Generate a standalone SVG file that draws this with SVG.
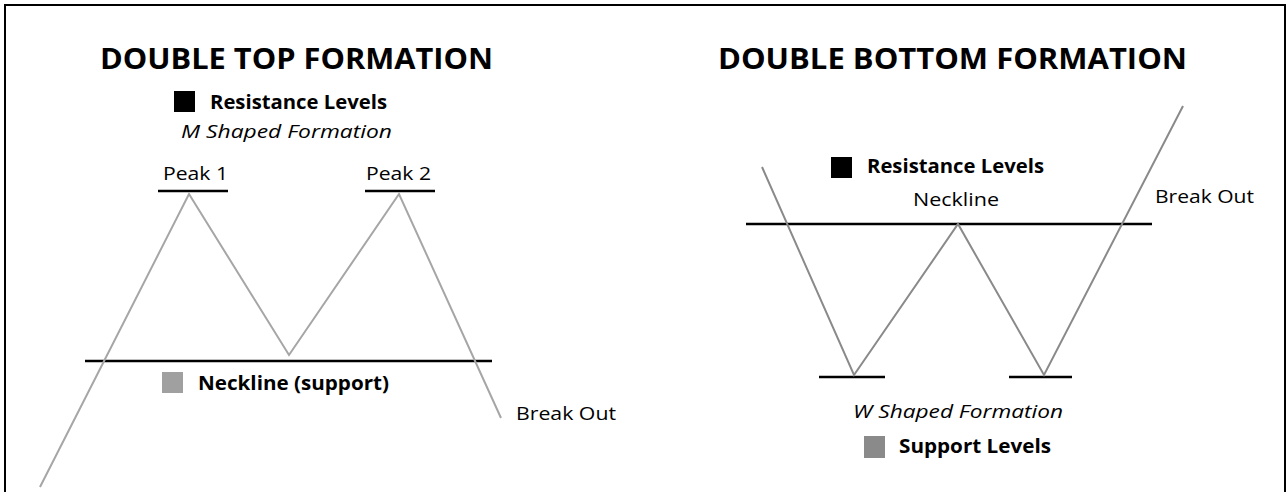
<svg xmlns="http://www.w3.org/2000/svg" width="1288" height="492" viewBox="0 0 1288 492">
<style>
text{font-family:"Open Sans","Liberation Sans",sans-serif;fill:#000}
.title{font-size:28.5px;font-weight:bold}
.lbl{font-size:20px;font-weight:bold}
.it{font-size:19px;font-style:italic}
.reg{font-size:19px}
.lev{stroke:#000;stroke-width:2.5;fill:none}
.priceL{stroke:#a6a6a6;stroke-width:2;fill:none;stroke-linejoin:miter}
.priceR{stroke:#8a8a8a;stroke-width:2;fill:none;stroke-linejoin:miter}
</style>
<rect x="0" y="0" width="1288" height="492" fill="#fff"/>
<rect x="5" y="5" width="1280" height="500" fill="none" stroke="#000" stroke-width="2"/>

<g id="double-top">
  <text class="title" x="100" y="69" textLength="393" lengthAdjust="spacingAndGlyphs">DOUBLE TOP FORMATION</text>
  <g id="top-resistance-legend">
    <rect x="174" y="91" width="21" height="21" fill="#000"/>
    <text class="lbl" x="210" y="109" textLength="177" lengthAdjust="spacingAndGlyphs">Resistance Levels</text>
  </g>
  <text class="it" x="181" y="138" textLength="211" lengthAdjust="spacingAndGlyphs">M Shaped Formation</text>
  <g id="peak1">
    <text class="reg" x="163" y="180" textLength="65" lengthAdjust="spacingAndGlyphs">Peak 1</text>
    <line class="lev" x1="158" y1="191" x2="228" y2="191"/>
  </g>
  <g id="peak2">
    <text class="reg" x="366" y="180" textLength="65" lengthAdjust="spacingAndGlyphs">Peak 2</text>
    <line class="lev" x1="365" y1="191" x2="435" y2="191"/>
  </g>
  <g id="top-neckline">
    <line class="lev" x1="85" y1="361" x2="492" y2="361"/>
    <rect x="162" y="372" width="21" height="21" fill="#a0a0a0"/>
    <text class="lbl" x="198" y="390" textLength="191" lengthAdjust="spacingAndGlyphs">Neckline (support)</text>
  </g>
  <text class="reg" x="516" y="420" textLength="100" lengthAdjust="spacingAndGlyphs">Break Out</text>
</g>

<g id="double-bottom">
  <text class="title" x="718" y="69" textLength="469" lengthAdjust="spacingAndGlyphs">DOUBLE BOTTOM FORMATION</text>
  <g id="bottom-resistance-legend">
    <rect x="831" y="157" width="21" height="21" fill="#000"/>
    <text class="lbl" x="867" y="173" textLength="177" lengthAdjust="spacingAndGlyphs">Resistance Levels</text>
  </g>
  <g id="bottom-neckline">
    <text class="reg" x="913" y="206" textLength="86" lengthAdjust="spacingAndGlyphs">Neckline</text>
    <line class="lev" x1="746" y1="224" x2="1152" y2="224"/>
  </g>
  <text class="reg" x="1155" y="203" textLength="99" lengthAdjust="spacingAndGlyphs">Break Out</text>
  <g id="trough1">
    <line class="lev" x1="819" y1="377" x2="885" y2="377"/>
  </g>
  <g id="trough2">
    <line class="lev" x1="1009" y1="377" x2="1072" y2="377"/>
  </g>
  <text class="it" x="853" y="418" textLength="210" lengthAdjust="spacingAndGlyphs">W Shaped Formation</text>
  <g id="support-legend">
    <rect x="864" y="436" width="21" height="22" fill="#8a8a8a"/>
    <text class="lbl" x="899" y="453" textLength="152" lengthAdjust="spacingAndGlyphs">Support Levels</text>
  </g>
</g>

<g id="connectors">
  <polyline class="priceL" points="40,487 189,194 289,355 399,194 501,418"/>
  <polyline class="priceR" points="762,167 854,375 958,224 1044,375 1183,106"/>
</g>
</svg>
